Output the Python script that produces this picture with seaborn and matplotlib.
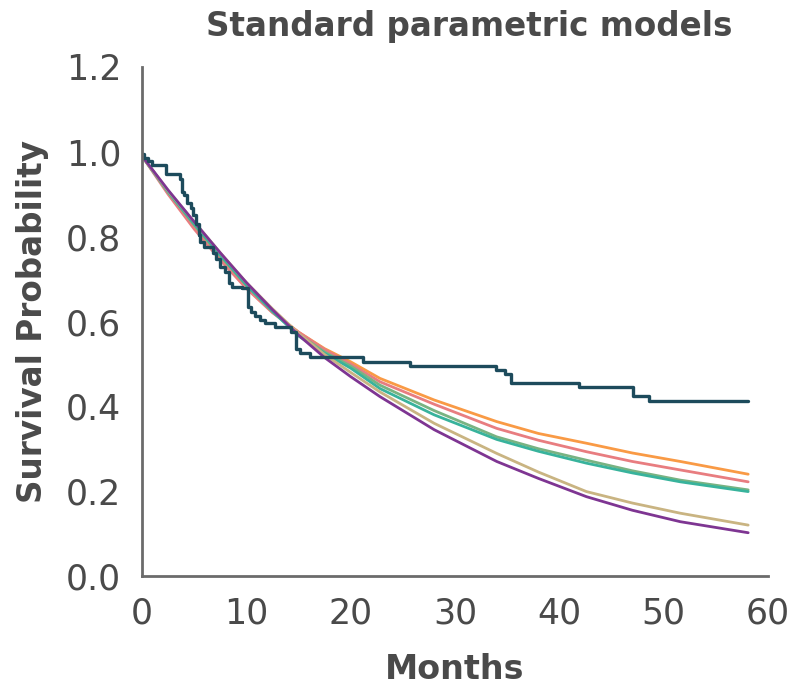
import numpy as np
import pandas as pd
import matplotlib
matplotlib.use("Agg")
import matplotlib.pyplot as plt
import seaborn as sns

# ---- data ----
km_months = [0, 0.2, 0.6, 1.0, 2.3, 3.6, 3.8, 4.0, 4.35, 4.67, 4.9, 5.2, 5.5, 5.6, 5.9,
             6.8, 7.1, 7.5, 8.0, 8.3, 8.6, 9.55, 10.2, 10.4, 10.8, 11.3, 11.8, 12.7,
             14.3, 14.8, 15.1, 16.1, 21.2, 25.7, 33.9, 34.8, 35.4, 41.9, 47.1, 48.6, 58.1]
km_surv = [0.996, 0.985, 0.979, 0.969, 0.948, 0.937, 0.906, 0.899, 0.879, 0.867, 0.851,
           0.831, 0.805, 0.788, 0.776, 0.761, 0.747, 0.729, 0.717, 0.690, 0.682, 0.678,
           0.635, 0.623, 0.613, 0.603, 0.596, 0.586, 0.576, 0.534, 0.526, 0.517, 0.505,
           0.495, 0.486, 0.476, 0.454, 0.445, 0.424, 0.413, 0.413]

model_months = [0, 2.5, 5, 7.5, 10, 12.5, 15, 17.5, 20, 22.8, 28, 34, 38, 42.6, 47, 51.6, 58.1]
exponential = [0.99, 0.905, 0.822, 0.748, 0.680, 0.622, 0.575, 0.536, 0.505, 0.466,
               0.415, 0.364, 0.336, 0.313, 0.290, 0.270, 0.240]
weibull = [0.99, 0.900, 0.818, 0.745, 0.678, 0.621, 0.575, 0.534, 0.500, 0.458,
           0.405, 0.348, 0.320, 0.293, 0.270, 0.250, 0.222]
lognormal = [0.99, 0.905, 0.828, 0.755, 0.686, 0.624, 0.570, 0.528, 0.495, 0.450,
             0.390, 0.328, 0.300, 0.273, 0.248, 0.226, 0.203]
loglogistic = [0.99, 0.906, 0.830, 0.757, 0.686, 0.624, 0.566, 0.525, 0.490, 0.442,
               0.380, 0.322, 0.294, 0.266, 0.243, 0.222, 0.199]
gompertz = [0.99, 0.908, 0.835, 0.762, 0.692, 0.630, 0.572, 0.522, 0.480, 0.434,
            0.360, 0.289, 0.245, 0.199, 0.172, 0.148, 0.120]
gengamma = [0.99, 0.910, 0.835, 0.762, 0.692, 0.628, 0.568, 0.515, 0.470, 0.423,
            0.345, 0.270, 0.230, 0.187, 0.155, 0.128, 0.102]

model_names = ["Exponential", "Weibull", "Log-normal", "Log-logistic", "Gompertz", "Generalized gamma"]
model_colors = ["#f99a45", "#e87d80", "#79b382", "#38b39c", "#c9b482", "#7e3592"]
km_color = "#1d4b5c"

x_ticks = [0, 10, 20, 30, 40, 50, 60]
y_ticks = [0.0, 0.2, 0.4, 0.6, 0.8, 1.0, 1.2]
y_tick_labels = ["0.0", "0.2", "0.4", "0.6", "0.8", "1.0", "1.2"]

rows = []
for name, vals in zip(model_names, [exponential, weibull, lognormal, loglogistic, gompertz, gengamma]):
    for m, v in zip(model_months, vals):
        rows.append({"Months": m, "Survival": v, "Model": name})
models_df = pd.DataFrame(rows)
km_df = pd.DataFrame({"Months": km_months, "Survival": km_surv})

# ---- plot ----
sns.set_style("white")
plt.rcParams["font.family"] = ["DejaVu Sans"]
text_color = "#4a4a4a"
axis_color = "#6b6b6b"

fig = plt.figure(figsize=(7.95, 6.95), dpi=100)
ax = fig.add_axes([142 / 795, 1 - 576 / 695, (768 - 142) / 795, (576 - 67) / 695])

sns.lineplot(data=models_df, x="Months", y="Survival", hue="Model",
             palette=dict(zip(model_names, model_colors)), linewidth=2.0,
             legend=False, ax=ax, estimator=None, sort=True)
sns.lineplot(data=km_df, x="Months", y="Survival", color=km_color, linewidth=2.4,
             drawstyle="steps-post", legend=False, ax=ax, estimator=None)

ax.set_xlim(0, 60)
ax.set_ylim(0, 1.2)
ax.set_xticks(x_ticks)
ax.set_yticks(y_ticks)
ax.set_xticklabels([str(t) for t in x_ticks], fontsize=25)
ax.set_yticklabels(y_tick_labels, fontsize=25)

for s in ["top", "right"]:
    ax.spines[s].set_visible(False)
for s in ["left", "bottom"]:
    ax.spines[s].set_color(axis_color)
    ax.spines[s].set_linewidth(2)

ax.tick_params(axis="both", direction="out", length=11, width=2, color=axis_color,
               labelcolor=text_color, pad=4)

ax.set_xlabel("Months", fontsize=24, fontweight="bold",
              color=text_color, labelpad=16)
ax.set_ylabel("Survival Probability", fontsize=23.5, fontweight="bold",
              color=text_color, labelpad=12)
ax.set_title("Standard parametric models", fontsize=23.5, fontweight="bold",
             color=text_color, pad=22, x=0.522)

fig.savefig("out.png", dpi=100)
